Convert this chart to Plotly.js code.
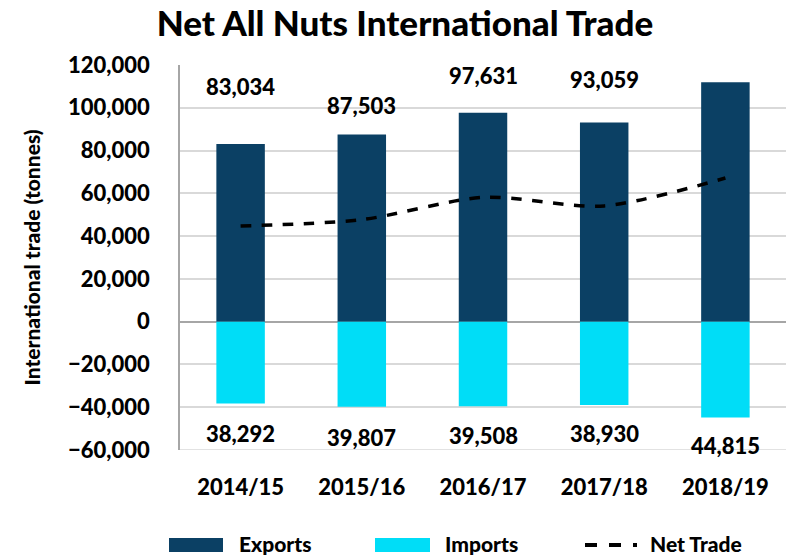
<!DOCTYPE html>
<html><head><meta charset="utf-8">
<script src="https://cdn.plot.ly/plotly-3.0.1.min.js"></script>
<style>html,body{margin:0;padding:0;background:#fff}#chart{width:787px;height:558px}</style>
</head><body><div id="chart"></div>
<script>
const categories = ['2014/15','2015/16','2016/17','2017/18','2018/19'];
const exportsT = [83034, 87503, 97631, 93059, 111971];
const importsT = [38292, 39807, 39508, 38930, 44815];
const netTrade = exportsT.map((v,i)=>v-importsT[i]);
const seriesNames = ['Exports','Imports','Net Trade'];
// label anchor heights (layout only)
const exportLabelY = [110000, 101000, 115000, 113000, 121000];
const importLabelY = [-52500, -54000, -53000, -52500, -58000];

const fam = 'Lato, "Open Sans", sans-serif';
const W = 900;
const fmt = v => v.toLocaleString('en-US');
const cExp = '#0B4064', cImp = '#00DDF7';

const traces = [
  {type:'bar', name:seriesNames[0], x:categories, y:exportsT, marker:{color:cExp}, width:0.4},
  {type:'bar', name:seriesNames[1], x:categories, y:importsT.map(v=>-v), marker:{color:cImp}, width:0.4},
  {type:'scatter', mode:'lines', name:seriesNames[2], x:categories, y:netTrade,
   line:{color:'#000', width:3.5, dash:'dash', shape:'spline', smoothing:0.8}}
];

const lblFont = {family:fam, size:22, color:'#000', weight:W};
const legFont = {family:fam, size:21, color:'#000', weight:W};
const annotations = [];
categories.forEach((c,i)=>{
  annotations.push({x:c, y:exportLabelY[i], text:fmt(exportsT[i]), showarrow:false, font:lblFont, yanchor:'middle'});
  annotations.push({x:c, y:importLabelY[i], text:fmt(importsT[i]), showarrow:false, font:lblFont, yanchor:'middle'});
});
// manual legend (pixel positions via paper coords)
const px = x => (x-180)/(787-181);
const py = y => (450-y)/(450-65);
const legendText = [[237, seriesNames[0]],[443, seriesNames[1]],[648, seriesNames[2]]];
legendText.forEach(([x,t])=>annotations.push({xref:'paper', yref:'paper', x:px(x), y:py(543), xanchor:'left', yanchor:'middle',
  text:t, showarrow:false, font:legFont}));

const shapes = [
  {type:'line', xref:'paper', yref:'y', x0:0, x1:1, y0:-60000, y1:-60000, line:{color:'#d9d9d9', width:1.5}},
  {type:'rect', xref:'paper', yref:'paper', x0:px(169), x1:px(223), y0:py(552), y1:py(538), fillcolor:cExp, line:{width:0}},
  {type:'rect', xref:'paper', yref:'paper', x0:px(375), x1:px(430), y0:py(552), y1:py(538), fillcolor:cImp, line:{width:0}},
  {type:'line', xref:'paper', yref:'paper', x0:px(585), x1:px(637), y0:py(545), y1:py(545), line:{color:'#000', width:4, dash:'dash'}}
];

const layout = {
  width:787, height:558,
  margin:{l:180, r:1, t:65, b:108},
  paper_bgcolor:'#fff', plot_bgcolor:'#fff',
  barmode:'relative', showlegend:false,
  title:{text:'Net All Nuts International Trade', xref:'container', x:405/787, xanchor:'center', yref:'container', y:1-24/558, yanchor:'middle',
    font:{family:fam, size:35, color:'#000', weight:W}},
  font:{family:fam, color:'#000'},
  xaxis:{type:'category', tickfont:{family:fam, size:22, weight:W, color:'#000'},
    showline:false, ticks:'', ticklabelstandoff:22},
  yaxis:{range:[-60000,120000], dtick:20000, tickformat:',d',
    tickfont:{family:fam, size:22, weight:W, color:'#000'},
    gridcolor:'#d9d9d9', gridwidth:1.5, zeroline:true, zerolinecolor:'#a6a6a6', zerolinewidth:1.5,
    showline:true, linecolor:'#a6a6a6', linewidth:1.5, ticks:'', ticklabelstandoff:24,
    title:{text:'International trade (tonnes)', standoff:22, font:{family:fam, size:21, weight:W, color:'#000'}}},
  annotations:annotations,
  shapes:shapes
};
Plotly.newPlot('chart', traces, layout, {displayModeBar:false});
</script></body></html>
